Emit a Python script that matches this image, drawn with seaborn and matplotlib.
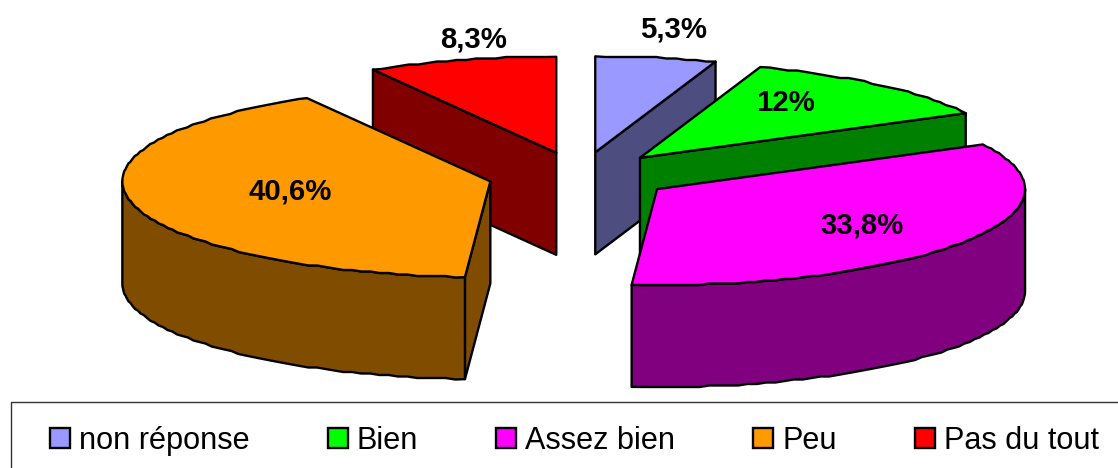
import numpy as np
import matplotlib
matplotlib.use("Agg")
import matplotlib.pyplot as plt
from matplotlib.patches import Patch, Polygon, Rectangle
import seaborn as sns

# === Data === #
categories = ["non réponse", "Bien", "Assez bien", "Peu", "Pas du tout"]
values = [5.3, 12, 33.8, 40.6, 8.3]
value_labels = ["5,3%", "12%", "33,8%", "40,6%", "8,3%"]
slice_colors = ["#9999FF", "#00FF00", "#FF00FF", "#FF9900", "#FF0000"]

# === Layout (pixels) === #
cx, cy = 580, 176
rx, ry = 368, 96
depth = 102
explode = 0.25
label_xy = [(674, 30), (786, 103), (862, 226), (290, 191), (474, 39)]

sns.set_theme(style="white")
plt.rcParams["font.family"] = ["Liberation Sans", "DejaVu Sans"]
plt.rcParams["text.color"] = "black"

top_colors = sns.color_palette(slice_colors)
side_colors = [tuple(0.5 * c for c in col) for col in top_colors]

fig = plt.figure(figsize=(11.18, 4.68), dpi=100)
ax = fig.add_axes([0, 0, 1, 1])
ax.set_xlim(0, 1118)
ax.set_ylim(468, 0)
ax.axis("off")


def rim(ax0, ay0, start, end):
    # rim of the slice, snapped to a small grid to get the same rough edge
    n = max(2, int(abs(end - start) / 1.5) + 1)
    t = np.radians(np.linspace(start, end, n))
    x = ax0 + rx * np.sin(t)
    y = ay0 - ry * np.cos(t)
    y[1:-1] = np.round(y[1:-1] / 1.5) * 1.5
    return np.column_stack([x, y])


def draw_slice(i, start, end):
    mid = np.radians((start + end) / 2)
    ax0 = cx + explode * rx * np.sin(mid)
    ay0 = cy - explode * ry * np.cos(mid)
    down = np.array([0, depth])
    apex = np.array([ax0, ay0])
    style = dict(edgecolor="black", linewidth=1.7, joinstyle="round")

    # flat walls along the radius, only when they face the viewer
    for angle, visible in [(start, 180 < start < 360), (end, 0 < end < 180)]:
        if visible:
            p = rim(ax0, ay0, angle, angle)[0]
            ax.add_patch(Polygon([apex, p, p + down, apex + down], facecolor=side_colors[i], **style))

    # outer wall for the front half of the pie
    a, b = max(start, 90), min(end, 270)
    if a < b:
        arc = rim(ax0, ay0, a, b)
        ax.add_patch(Polygon(np.vstack([arc, (arc + down)[::-1]]), facecolor=side_colors[i], **style))

    # top face
    ax.add_patch(Polygon(np.vstack([apex, rim(ax0, ay0, start, end)]), facecolor=top_colors[i], **style))


# === Slices, back to front === #
edges = np.concatenate([[0], np.cumsum(values)]) * 360 / sum(values)
mids = np.radians((edges[:-1] + edges[1:]) / 2)
order = np.argsort(-np.cos(mids))
for i in order:
    draw_slice(i, edges[i], edges[i + 1])

for lab, (lx, ly) in zip(value_labels, label_xy):
    ax.text(lx, ly, lab, ha="center", va="center", fontsize=21.2, fontweight="bold", color="black")

# === Legend box === #
ax.add_patch(Rectangle((11, 402), 1120, 80, facecolor="white", edgecolor="#333333", linewidth=1.0))
handles = [Patch(facecolor=c, edgecolor="black", linewidth=1.7) for c in top_colors]
fig.legend(
    handles, categories, loc="center left", bbox_to_anchor=(50 / 1118, 1 - 441 / 468),
    bbox_transform=fig.transFigure, ncol=5, frameon=False, fontsize=22.1, borderpad=0, borderaxespad=0,
    handlelength=0.65, handleheight=0.65, handletextpad=0.3, columnspacing=2.54, labelspacing=0,
    labelcolor="black",
)

fig.savefig("out.png", dpi=100)
plt.close(fig)
